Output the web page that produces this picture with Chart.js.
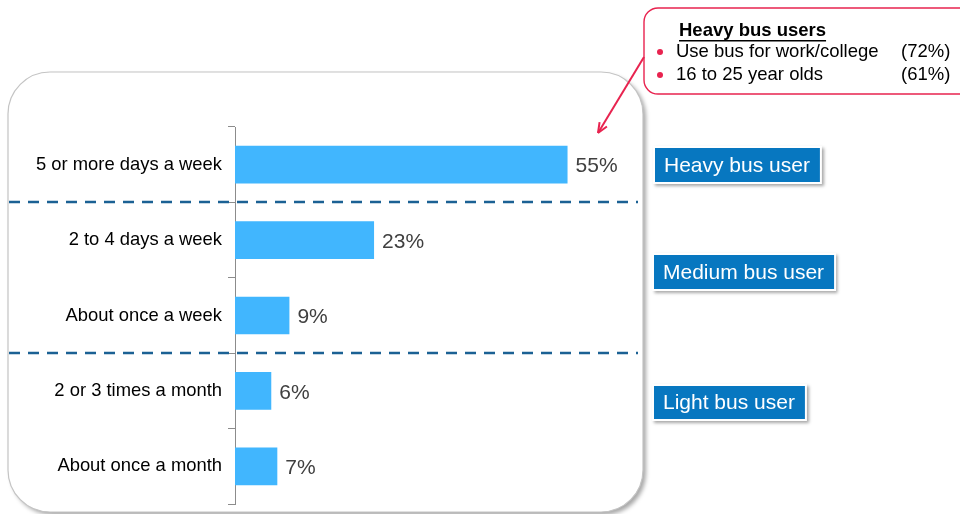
<!DOCTYPE html>
<html>
<head>
<meta charset="utf-8">
<script src="https://cdn.jsdelivr.net/npm/chart.js@4/dist/chart.umd.min.js"></script>
<style>
  html, body { margin: 0; padding: 0; background: #fff; }
  #wrap { position: relative; width: 960px; height: 514px; }
</style>
</head>
<body>
<div id="wrap"><canvas id="chart" width="960" height="514"></canvas></div>
<script>
const categories = [
  "5 or more days a week",
  "2 to 4 days a week",
  "About once a week",
  "2 or 3 times a month",
  "About once a month"
];
const shares = [55, 23, 9, 6, 7];
// dashed separators sit after these category indexes
const groupBreaks = [0, 2];
const segmentLabels = ["Heavy bus user", "Medium bus user", "Light bus user"];
const calloutTitle = "Heavy bus users";
const calloutItems = ["Use bus for work/college", "16 to 25 year olds"];
const calloutValues = ["(72%)", "(61%)"];

const FONT = "'Liberation Sans', Arial, sans-serif";

function roundRect(ctx, x, y, w, h, r) {
  ctx.beginPath();
  ctx.moveTo(x + r, y);
  ctx.lineTo(x + w - r, y);
  ctx.arcTo(x + w, y, x + w, y + r, r);
  ctx.lineTo(x + w, y + h - r);
  ctx.arcTo(x + w, y + h, x + w - r, y + h, r);
  ctx.lineTo(x + r, y + h);
  ctx.arcTo(x, y + h, x, y + h - r, r);
  ctx.lineTo(x, y + r);
  ctx.arcTo(x, y, x + r, y, r);
  ctx.closePath();
}

const decorations = {
  id: "decorations",
  beforeDraw(chart) {
    const ctx = chart.ctx;
    // rounded panel behind the chart
    ctx.save();
    ctx.shadowColor = "rgba(0,0,0,0.35)";
    ctx.shadowOffsetX = 3;
    ctx.shadowOffsetY = 3;
    ctx.shadowBlur = 4;
    roundRect(ctx, 8, 72, 635, 440, 42);
    ctx.fillStyle = "#fff";
    ctx.fill();
    ctx.restore();
    ctx.save();
    roundRect(ctx, 8, 72, 635, 440, 42);
    ctx.strokeStyle = "#c4c4c4";
    ctx.lineWidth = 1.2;
    ctx.stroke();
    ctx.restore();
  },
  afterDraw(chart) {
    const ctx = chart.ctx;
    const y = chart.scales.y;
    const meta = chart.getDatasetMeta(0);

    // dashed group separators
    ctx.save();
    ctx.strokeStyle = "#1b6194";
    ctx.lineWidth = 2.5;
    ctx.setLineDash([11, 8]);
    groupBreaks.forEach(i => {
      const py = Math.round((y.getPixelForValue(i) + y.getPixelForValue(i + 1)) / 2);
      ctx.beginPath();
      ctx.moveTo(9, py);
      ctx.lineTo(638, py);
      ctx.stroke();
    });
    ctx.restore();

    // value labels
    ctx.save();
    ctx.font = "21px " + FONT;
    ctx.fillStyle = "#404040";
    ctx.textBaseline = "middle";
    meta.data.forEach((bar, i) => {
      ctx.fillText(shares[i] + "%", bar.x + 8, bar.y + 2);
    });
    ctx.restore();

    // segment boxes on the right
    const boxes = [
      { x: 655, y: 148, h: 34 },
      { x: 654, y: 255, h: 34 },
      { x: 654, y: 386, h: 33 }
    ];
    ctx.save();
    ctx.font = "21px " + FONT;
    boxes.forEach((b, i) => {
      const w = ctx.measureText(segmentLabels[i]).width + 19;
      ctx.save();
      ctx.shadowColor = "rgba(0,0,0,0.35)";
      ctx.shadowOffsetX = 2;
      ctx.shadowOffsetY = 2;
      ctx.shadowBlur = 3;
      ctx.fillStyle = "#fff";
      ctx.fillRect(b.x - 2, b.y - 2, w + 4, b.h + 4);
      ctx.restore();
      ctx.fillStyle = "#0777c0";
      ctx.fillRect(b.x, b.y, w, b.h);
      ctx.fillStyle = "#fff";
      ctx.textBaseline = "middle";
      ctx.fillText(segmentLabels[i], b.x + 9, b.y + b.h / 2 + 1);
    });
    ctx.restore();

    // callout
    ctx.save();
    roundRect(ctx, 644, 8, 330, 86, 14);
    ctx.fillStyle = "#fff";
    ctx.fill();
    ctx.strokeStyle = "#e8234f";
    ctx.lineWidth = 1.4;
    ctx.stroke();

    ctx.fillStyle = "#000";
    ctx.font = "bold 18.5px " + FONT;
    ctx.textBaseline = "middle";
    ctx.fillText(calloutTitle, 679, 31);
    const tw = ctx.measureText(calloutTitle).width;
    ctx.fillRect(679, 40, tw, 1.5);

    ctx.font = "18.5px " + FONT;
    calloutItems.forEach((t, i) => {
      const py = 52 + i * 23;
      ctx.fillStyle = "#e8234f";
      ctx.beginPath();
      ctx.arc(660, py, 3, 0, Math.PI * 2);
      ctx.fill();
      ctx.fillStyle = "#000";
      ctx.fillText(t, 676, py);
      ctx.fillText(calloutValues[i], 901, py);
    });

    // arrow from callout to top bar
    ctx.strokeStyle = "#e8234f";
    ctx.lineWidth = 2;
    const ax0 = 644, ay0 = 57, ax1 = 598, ay1 = 133;
    ctx.beginPath();
    ctx.moveTo(ax0, ay0);
    ctx.lineTo(ax1, ay1);
    ctx.stroke();
    const ang = Math.atan2(ay1 - ay0, ax1 - ax0);
    ctx.beginPath();
    ctx.moveTo(ax1, ay1);
    ctx.lineTo(ax1 - 11 * Math.cos(ang - 0.4), ay1 - 11 * Math.sin(ang - 0.4));
    ctx.moveTo(ax1, ay1);
    ctx.lineTo(ax1 - 11 * Math.cos(ang + 0.4), ay1 - 11 * Math.sin(ang + 0.4));
    ctx.stroke();
    ctx.restore();
  }
};

new Chart(document.getElementById("chart"), {
  type: "bar",
  data: {
    labels: categories,
    datasets: [{
      data: shares,
      backgroundColor: "#41b6fe",
      borderWidth: 0,
      categoryPercentage: 1,
      barPercentage: 0.5
    }]
  },
  options: {
    indexAxis: "y",
    responsive: false,
    animation: false,
    layout: { padding: { top: 127, bottom: 10, left: 0, right: 332 } },
    plugins: { legend: { display: false }, tooltip: { enabled: false } },
    scales: {
      x: { display: false, min: 0, max: 65 },
      y: {
        afterFit(scale) {
          scale.width = 235;
          scale.paddingTop = 0;
          scale.paddingBottom = 0;
        },
        grid: {
          offset: true,
          drawOnChartArea: false,
          tickLength: 7,
          color: "#8c8c8c"
        },
        border: { color: "#8c8c8c", width: 1 },
        ticks: {
          color: "#000",
          padding: 6,
          font: { family: FONT, size: 18.4 }
        }
      }
    }
  },
  plugins: [decorations]
});
</script>
</body>
</html>
